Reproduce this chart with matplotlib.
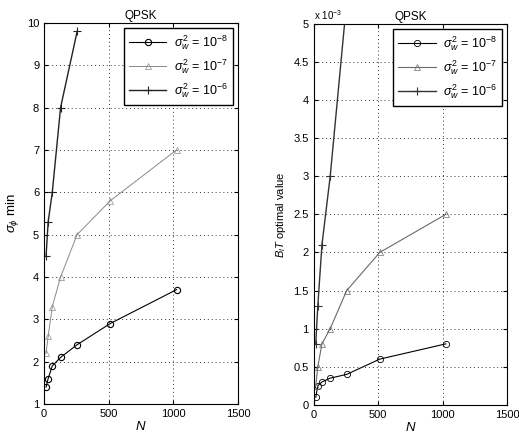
import matplotlib
matplotlib.use('agg')
import matplotlib.pyplot as plt

plt.rcParams['font.family'] = ['Liberation Sans', 'DejaVu Sans']
plt.rcParams['mathtext.fontset'] = 'custom'
plt.rcParams['mathtext.rm'] = 'Liberation Sans'
plt.rcParams['mathtext.it'] = 'Liberation Sans:italic'

# block length N
N = [16, 32, 64, 128, 256, 512, 1024]
N_hi = [16, 32, 64, 128, 256]

# left: sigma_phi min
sig_e8 = [1.4, 1.6, 1.9, 2.1, 2.4, 2.9, 3.7]
sig_e7 = [2.2, 2.6, 3.3, 4.0, 5.0, 5.8, 7.0]
sig_e6 = [4.5, 5.3, 6.0, 8.0, 9.8]

# right: B_l T optimal value (units of 1e-3)
bt_e8 = [0.1, 0.25, 0.3, 0.35, 0.4, 0.6, 0.8]
bt_e7 = [0.25, 0.5, 0.8, 1.0, 1.5, 2.0, 2.5]
bt_e6 = [0.8, 1.3, 2.1, 3.0, 5.3]

labels = [r'$\sigma^2_w$ = 10$^{-8}$', r'$\sigma^2_w$ = 10$^{-7}$', r'$\sigma^2_w$ = 10$^{-6}$']

fig = plt.figure(figsize=(5.19, 4.41), dpi=100)
ax1 = fig.add_axes([0.0848, 0.084, 0.374, 0.864])
ax2 = fig.add_axes([0.6044, 0.082, 0.373, 0.864])


def style(ax):
    ax.grid(True, linestyle=(0, (1, 3)), color='#333333', linewidth=0.7)
    ax.tick_params(direction='in', labelsize=8, length=3, top=True, right=True)
    for s in ax.spines.values():
        s.set_linewidth(0.8)
    ax.set_title('QPSK', fontsize=8.5, pad=3)
    ax.set_xlabel('$N$', fontsize=9.5, labelpad=1)
    ax.set_xlim(0, 1500)
    ax.set_xticks([0, 500, 1000, 1500])


def add_legend(ax):
    ax.legend(loc='upper right', fontsize=9, fancybox=False, edgecolor='black',
              framealpha=1, handlelength=3, borderpad=0.4, labelspacing=0.45,
              borderaxespad=0.4, handletextpad=0.6)


ax1.plot(N, sig_e8, color='black', lw=0.8, marker='o', ms=4.5, mfc='none', mew=0.8, label=labels[0])
ax1.plot(N, sig_e7, color='#8a8a8a', lw=0.7, marker='^', ms=4, mfc='none', mew=0.5, label=labels[1])
ax1.plot(N_hi, sig_e6, color='#222222', lw=1.0, marker='+', ms=6, mew=0.8, label=labels[2])
style(ax1)
ax1.set_ylim(1, 10)
ax1.set_yticks(range(1, 11))
ax1.set_ylabel(r'$\sigma_\phi$ min', fontsize=9.5, labelpad=4)
add_legend(ax1)

ax2.plot(N, bt_e8, color='black', lw=0.8, marker='o', ms=4.5, mfc='none', mew=0.6, label=labels[0])
ax2.plot(N, bt_e7, color='#6a6a6a', lw=0.8, marker='^', ms=4, mfc='none', mew=0.5, label=labels[1])
ax2.plot(N_hi, bt_e6, color='#333333', lw=1.0, marker='+', ms=6, mew=0.8, label=labels[2])
style(ax2)
ax2.set_ylim(0, 5)
ax2.set_yticks([0, 0.5, 1, 1.5, 2, 2.5, 3, 3.5, 4, 4.5, 5])
ax2.set_yticklabels(['0', '0.5', '1', '1.5', '2', '2.5', '3', '3.5', '4', '4.5', '5'])
ax2.set_ylabel(r'$B_lT$ optimal value', fontsize=8, labelpad=4)
ax2.text(0.0, 1.005, r'x 10$^{-3}$', transform=ax2.transAxes, fontsize=7, va='bottom', ha='left')
add_legend(ax2)

fig.savefig('out.png', dpi=100)
